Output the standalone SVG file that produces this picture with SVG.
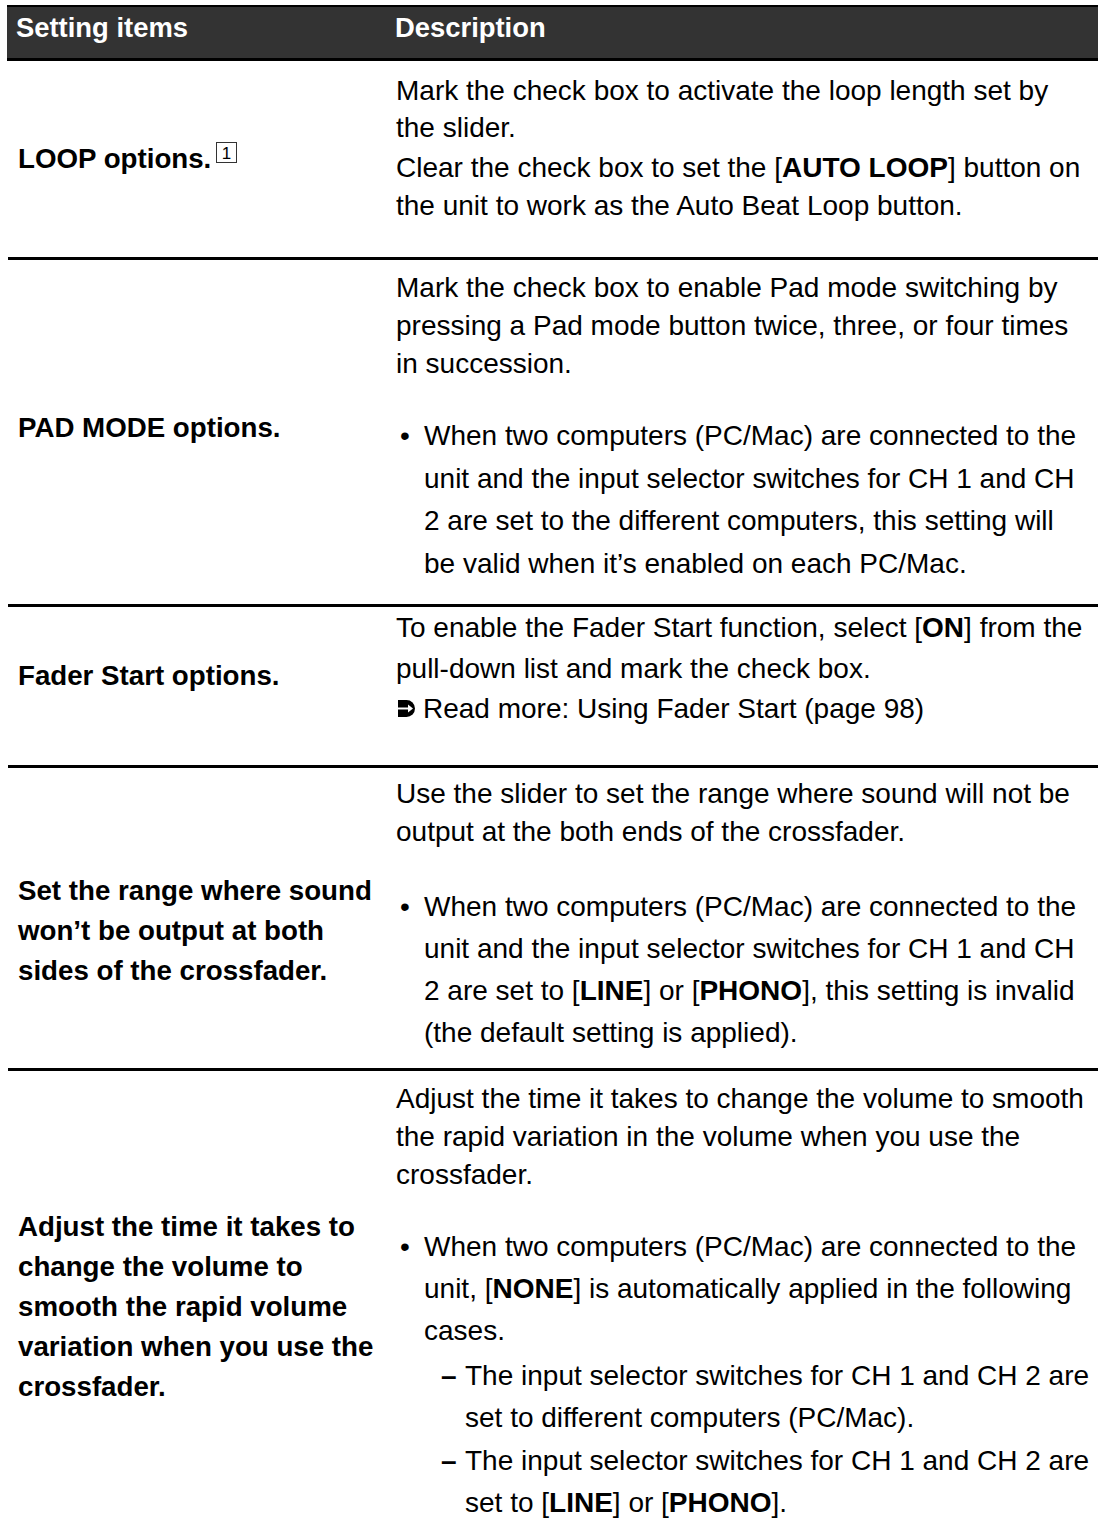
<svg xmlns="http://www.w3.org/2000/svg" width="1098" height="1538" viewBox="0 0 1098 1538">
<style>
.h{font-family:"Liberation Sans",Arial,sans-serif;font-size:27.4px;font-weight:bold;fill:#fff}
.l{font-family:"Liberation Sans",Arial,sans-serif;font-size:27.7px;font-weight:bold;fill:#000}
.t{font-family:"Liberation Sans",Arial,sans-serif;font-size:28px;fill:#000}
.b{font-weight:bold}
.rule{stroke:#000;stroke-width:3}
</style>
<rect width="1098" height="1538" fill="#fff"/>
<g id="header">
<rect x="7" y="5" width="1091" height="55" fill="#333333"/>
<line x1="7" y1="6" x2="1098" y2="6" stroke="#000" stroke-width="2"/>
<line x1="7" y1="59.5" x2="1098" y2="59.5" class="rule"/>
<text class="h" x="16" y="37">Setting items</text>
<text class="h" x="395" y="37">Description</text>
</g>
<g id="connectors">
<line x1="8" y1="258.5" x2="1098" y2="258.5" class="rule"/>
<line x1="8" y1="605.5" x2="1098" y2="605.5" class="rule"/>
<line x1="8" y1="766.5" x2="1098" y2="766.5" class="rule"/>
<line x1="8" y1="1069.5" x2="1098" y2="1069.5" class="rule"/>
</g>
<g id="row-loop">
<text class="l" x="18" y="168">LOOP options.</text>
<rect x="216.5" y="142.5" width="20" height="20" fill="none" stroke="#333" stroke-width="1"/>
<text x="226.5" y="159" font-family="Liberation Sans,Arial,sans-serif" font-size="17" text-anchor="middle" fill="#000">1</text>
<text class="t" x="396" y="100">Mark the check box to activate the loop length set by</text>
<text class="t" x="396" y="137">the slider.</text>
<text class="t" x="396" y="177">Clear the check box to set the [<tspan class="b">AUTO LOOP</tspan>] button on</text>
<text class="t" x="396" y="215">the unit to work as the Auto Beat Loop button.</text>
</g>
<g id="row-pad">
<text class="l" x="18" y="437">PAD MODE options.</text>
<text class="t" x="396" y="297">Mark the check box to enable Pad mode switching by</text>
<text class="t" x="396" y="335">pressing a Pad mode button twice, three, or four times</text>
<text class="t" x="396" y="373">in succession.</text>
<text class="t" x="400" y="445">•</text>
<text class="t" x="424" y="445">When two computers (PC/Mac) are connected to the</text>
<text class="t" x="424" y="488">unit and the input selector switches for CH 1 and CH</text>
<text class="t" x="424" y="530">2 are set to the different computers, this setting will</text>
<text class="t" x="424" y="573">be valid when it’s enabled on each PC/Mac.</text>
</g>
<g id="row-fader">
<text class="l" x="18" y="685">Fader Start options.</text>
<text class="t" x="396" y="637">To enable the Fader Start function, select [<tspan class="b">ON</tspan>] from the</text>
<text class="t" x="396" y="678">pull-down list and mark the check box.</text>
<path d="M398 700 h8.5 a8.5 8.5 0 0 1 0 17 h-8.5 z" fill="#000"/>
<path d="M398 707.4 h10 v-3 l5 4.1 l-5 4.1 v-3 h-10 z" fill="#fff"/>
<text class="t" x="423" y="718">Read more: Using Fader Start (page 98)</text>
</g>
<g id="row-range">
<text class="l" x="18" y="900">Set the range where sound</text>
<text class="l" x="18" y="940">won’t be output at both</text>
<text class="l" x="18" y="980">sides of the crossfader.</text>
<text class="t" x="396" y="803">Use the slider to set the range where sound will not be</text>
<text class="t" x="396" y="841">output at the both ends of the crossfader.</text>
<text class="t" x="400" y="916">•</text>
<text class="t" x="424" y="916">When two computers (PC/Mac) are connected to the</text>
<text class="t" x="424" y="958">unit and the input selector switches for CH 1 and CH</text>
<text class="t" x="424" y="1000">2 are set to [<tspan class="b">LINE</tspan>] or [<tspan class="b">PHONO</tspan>], this setting is invalid</text>
<text class="t" x="424" y="1042">(the default setting is applied).</text>
</g>
<g id="row-adjust">
<text class="l" x="18" y="1236">Adjust the time it takes to</text>
<text class="l" x="18" y="1276">change the volume to</text>
<text class="l" x="18" y="1316">smooth the rapid volume</text>
<text class="l" x="18" y="1356">variation when you use the</text>
<text class="l" x="18" y="1396">crossfader.</text>
<text class="t" x="396" y="1108">Adjust the time it takes to change the volume to smooth</text>
<text class="t" x="396" y="1146">the rapid variation in the volume when you use the</text>
<text class="t" x="396" y="1184">crossfader.</text>
<text class="t" x="400" y="1256">•</text>
<text class="t" x="424" y="1256">When two computers (PC/Mac) are connected to the</text>
<text class="t" x="424" y="1298">unit, [<tspan class="b">NONE</tspan>] is automatically applied in the following</text>
<text class="t" x="424" y="1340">cases.</text>
<text class="t b" x="441" y="1385">–</text>
<text class="t" x="465" y="1385">The input selector switches for CH 1 and CH 2 are</text>
<text class="t" x="465" y="1427">set to different computers (PC/Mac).</text>
<text class="t b" x="441" y="1470">–</text>
<text class="t" x="465" y="1470">The input selector switches for CH 1 and CH 2 are</text>
<text class="t" x="465" y="1512">set to [<tspan class="b">LINE</tspan>] or [<tspan class="b">PHONO</tspan>].</text>
</g>
</svg>
